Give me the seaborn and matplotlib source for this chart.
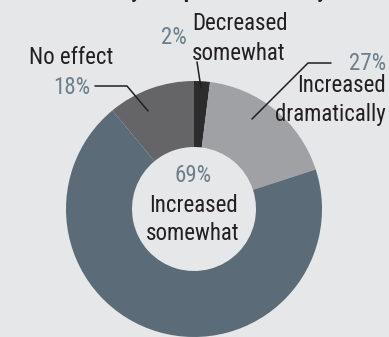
import matplotlib

matplotlib.use("Agg")

import matplotlib.pyplot as plt
import seaborn as sns

# wedge shares as drawn, clockwise from 12 o'clock
categories = ["Decreased somewhat", "Increased dramatically", "Increased somewhat", "No effect"]
shares = [2, 18, 69, 11]
pct_labels = ["2%", "27%", "69%", "18%"]
colors = ["#2c2c2d", "#a0a1a4", "#5b6c78", "#656567"]

BG = "#e6e7e8"
INK = "#231f20"
PCT = "#6b7f8c"
W, H = 389, 337


def y(v: float) -> float:
    # image pixel row -> data y
    return H - v


def main() -> None:
    sns.set_theme(style="white")
    plt.rcParams["font.family"] = ["Roboto Condensed", "Archivo Narrow", "PT Sans Narrow", "DejaVu Sans"]
    fs = 16.5

    fig = plt.figure(figsize=(W / 100, H / 100), dpi=100, facecolor=BG)
    ax = fig.add_axes([0, 0, 1, 1])
    ax.set_facecolor(BG)

    ax.pie(
        shares,
        colors=colors,
        startangle=90,
        counterclock=False,
        center=(194, y(209)),
        radius=128,
        wedgeprops=dict(width=66, edgecolor="none"),
        frame=True,
    )
    ax.set_xlim(0, W)
    ax.set_ylim(0, H)
    ax.set_aspect("equal")
    ax.axis("off")

    # cropped headline at the very top
    ax.text(190, y(-3.5), "affected your spend on security", ha="center", va="baseline",
            fontsize=15.5, fontweight="bold", color=INK)

    lw = 1.1
    # Decreased somewhat
    ax.text(192, y(24), "Decreased", ha="left", va="center", fontsize=fs, color=INK)
    ax.text(192, y(53), "somewhat", ha="left", va="center", fontsize=fs, color=INK)
    ax.text(187, y(37), pct_labels[0], ha="right", va="center", fontsize=fs, color=PCT)
    ax.plot([197, 201], [y(62), y(88)], color=INK, lw=lw)

    # Increased dramatically
    ax.text(386, y(64), pct_labels[1], ha="right", va="center", fontsize=fs, color=PCT)
    ax.text(386, y(86), "Increased", ha="right", va="center", fontsize=fs, color=INK)
    ax.text(386, y(114), "dramatically", ha="right", va="center", fontsize=fs, color=INK)
    ax.plot([331, 308, 252], [y(63), y(63), y(119)], color=INK, lw=lw)

    # No effect
    ax.text(71, y(57), "No effect", ha="center", va="center", fontsize=fs, color=INK)
    ax.text(90, y(88), pct_labels[3], ha="right", va="center", fontsize=fs, color=PCT)
    ax.plot([95, 127, 148], [y(86), y(86), y(111)], color=INK, lw=lw)

    # centre label
    ax.text(193, y(176), pct_labels[2], ha="center", va="center", fontsize=fs, color=PCT)
    ax.text(193, y(205), "Increased", ha="center", va="center", fontsize=fs, color=INK)
    ax.text(193, y(233), "somewhat", ha="center", va="center", fontsize=fs, color=INK)

    fig.savefig("out.png", dpi=100, facecolor=BG)
    plt.close(fig)


if __name__ == "__main__":
    main()
